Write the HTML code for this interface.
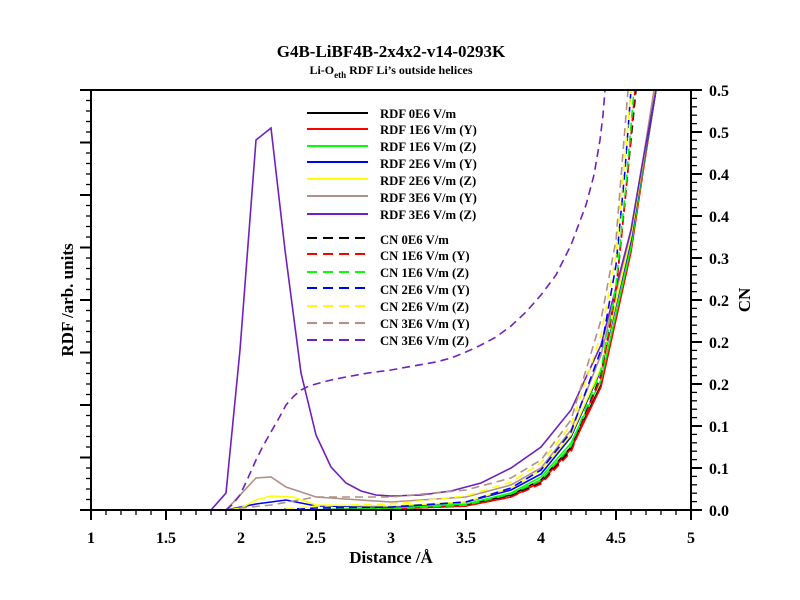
<!DOCTYPE html>
<html><head><meta charset="utf-8"><style>
body{margin:0;background:#fff}
svg{display:block;font-family:"Liberation Serif",serif;font-weight:bold}
</style></head><body>
<svg width="800" height="600" viewBox="0 0 800 600" xmlns="http://www.w3.org/2000/svg">
<rect width="800" height="600" fill="#fff"/>
<text x="391" y="57" font-size="17" text-anchor="middle">G4B-LiBF4B-2x4x2-v14-0293K</text>
<text x="391" y="74" font-size="12" text-anchor="middle">Li-O<tspan font-size="9" dy="4">eth</tspan><tspan dy="-4"> RDF Li’s outside helices</tspan></text>
<g fill="none" stroke-width="1.6">
<polyline stroke="#000" points="211,510 301,510 391,509 466,505 511,495 541,480 571,447 601,385 631,250 643,170 656,90"/>
<polyline stroke="#f00" points="211,510 301,510 391,509 466,506 511,497 541,482 571,449 601,387 631,252 643,172 656,90"/>
<polyline stroke="#0f0" points="211,510 301,510 391,508 466,504 511,493 541,477 571,443 601,380 631,247 643,168 656,90"/>
<polyline stroke="#00f" points="226,510 256,504 286,500 316,506 391,507 466,502 511,490 541,474 571,437 601,370 631,240 643,165 656,90"/>
<polyline stroke="#ff0" points="226,510 241,508 256,500 271,496 293,497 316,505 391,506 466,502 511,488 541,470 571,435 601,368 631,236 643,163 655,90"/>
<polyline stroke="#b09088" points="211,510 226,510 256,478 271,477 286,487 316,497 391,502 466,497 511,485 541,468 571,430 601,355 631,230 643,160 654,90"/>
<polyline stroke="#7020c0" points="211,510 226,493 240,350 256,140 271,128 285,250 301,373 316,435 331,467 346,483 361,491 376,495 391,496 421,495 451,491 481,483 511,468 541,447 571,410 601,345 631,230 643,160 656,90"/>
</g>
<g fill="none" stroke-width="1.6" stroke-dasharray="8,5">
<polyline stroke="#000" points="316,510 391,509 466,506 511,496 541,483 571,450 601,375 616,290 626,190 636,90"/>
<polyline stroke="#f00" points="316,510 391,509 466,506 511,497 541,484 571,452 601,377 616,292 626,192 635,90"/>
<polyline stroke="#0f0" points="316,510 391,509 466,505 511,494 541,480 571,446 601,370 616,285 626,185 634,90"/>
<polyline stroke="#00f" points="271,510 316,508 391,507 466,502 511,488 541,470 571,432 601,350 616,265 625,170 631,90"/>
<polyline stroke="#ff0" points="286,509 316,506 391,504 466,496 511,482 541,463 571,425 601,335 616,255 631,90"/>
<polyline stroke="#b09088" points="226,510 241,508 271,505 316,497 391,497 466,490 511,478 541,460 571,420 601,320 616,240 628,90"/>
<polyline stroke="#7020c0" points="226,510 233,504 240,495 248,478 256,460 263,446 271,432 279,418 286,405 294,396 301,390 309,386 316,384 331,380 346,377 368,373 391,370 413,366 436,362 451,358 466,352 481,345 496,337 511,326 526,312 541,295 556,275 571,245 586,205 594,175 600,140 603,115 605,90"/>
</g>
<g stroke-width="2">
<line x1="307" y1="113" x2="368" y2="113" stroke="#000"/>
<line x1="307" y1="129" x2="368" y2="129" stroke="#f00"/>
<line x1="307" y1="146" x2="368" y2="146" stroke="#0f0"/>
<line x1="307" y1="162" x2="368" y2="162" stroke="#00f"/>
<line x1="307" y1="179" x2="368" y2="179" stroke="#ff0"/>
<line x1="307" y1="196" x2="368" y2="196" stroke="#b09088"/>
<line x1="307" y1="214" x2="368" y2="214" stroke="#7020c0"/>
<g stroke-dasharray="10,6">
<line x1="307" y1="238" x2="368" y2="238" stroke="#000"/>
<line x1="307" y1="254" x2="368" y2="254" stroke="#f00"/>
<line x1="307" y1="272" x2="368" y2="272" stroke="#0f0"/>
<line x1="307" y1="288" x2="368" y2="288" stroke="#00f"/>
<line x1="307" y1="306" x2="368" y2="306" stroke="#ff0"/>
<line x1="307" y1="323" x2="368" y2="323" stroke="#b09088"/>
<line x1="307" y1="340" x2="368" y2="340" stroke="#7020c0"/>
</g></g>
<g font-size="12.7">
<text x="380" y="118">RDF 0E6 V/m</text>
<text x="380" y="134">RDF 1E6 V/m (Y)</text>
<text x="380" y="151">RDF 1E6 V/m (Z)</text>
<text x="380" y="168">RDF 2E6 V/m (Y)</text>
<text x="380" y="185">RDF 2E6 V/m (Z)</text>
<text x="380" y="202">RDF 3E6 V/m (Y)</text>
<text x="380" y="219">RDF 3E6 V/m (Z)</text>
<text x="380" y="244">CN 0E6 V/m</text>
<text x="380" y="260">CN 1E6 V/m (Y)</text>
<text x="380" y="277">CN 1E6 V/m (Z)</text>
<text x="380" y="294">CN 2E6 V/m (Y)</text>
<text x="380" y="311">CN 2E6 V/m (Z)</text>
<text x="380" y="328">CN 3E6 V/m (Y)</text>
<text x="380" y="345">CN 3E6 V/m (Z)</text>
</g>
<g stroke="#000" stroke-width="2" fill="none">
<line x1="90" y1="90" x2="692" y2="90"/>
<line x1="90" y1="510" x2="692" y2="510"/>
<line x1="91" y1="89" x2="91" y2="511"/>
<line x1="691" y1="89" x2="691" y2="511"/>
</g>
<g stroke="#000" stroke-width="1.3" id="ticks"></g>
<g font-size="16" text-anchor="middle" id="xl"></g>
<g font-size="16" id="yl"></g>
<text x="391" y="563" font-size="17" text-anchor="middle">Distance /Å</text>
<text transform="translate(73,300) rotate(-90)" font-size="17" text-anchor="middle">RDF /arb. units</text>
<text transform="translate(750,300) rotate(-90)" font-size="17" text-anchor="middle">CN</text>
<script>
var ns="http://www.w3.org/2000/svg",t=document.getElementById("ticks");
function L(a,b,c,d,w){var l=document.createElementNS(ns,"line");l.setAttribute("x1",a);l.setAttribute("y1",b);l.setAttribute("x2",c);l.setAttribute("y2",d);if(w)l.setAttribute("stroke-width",w);t.appendChild(l);}
for(var i=0;i<=40;i++){var x=91+i*15;L(x,510,x,i%5==0?520:515,i%5==0?2:1.3);}
for(var i=0;i<=40;i++){var y=510-i*10.5;L(91,y,i%5==0?80:86,y,i%5==0?2:1.3);}
for(var i=0;i<=50;i++){var y=510-i*8.4;L(691,y,i%5==0?702:697,y,i%5==0?2:1.3);}
var xl=document.getElementById("xl"),lab=["1","1.5","2","2.5","3","3.5","4","4.5","5"];
for(var i=0;i<9;i++){var e=document.createElementNS(ns,"text");e.setAttribute("x",91+i*75);e.setAttribute("y",543);e.textContent=lab[i];xl.appendChild(e);}
var yl=document.getElementById("yl"),yv=["0.0","0.1","0.1","0.2","0.2","0.2","0.3","0.4","0.4","0.5","0.5"];
for(var i=0;i<=10;i++){var e=document.createElementNS(ns,"text");e.setAttribute("x",709);e.setAttribute("y",516-i*42);e.textContent=yv[i];yl.appendChild(e);}
</script>
</svg>
</body></html>
